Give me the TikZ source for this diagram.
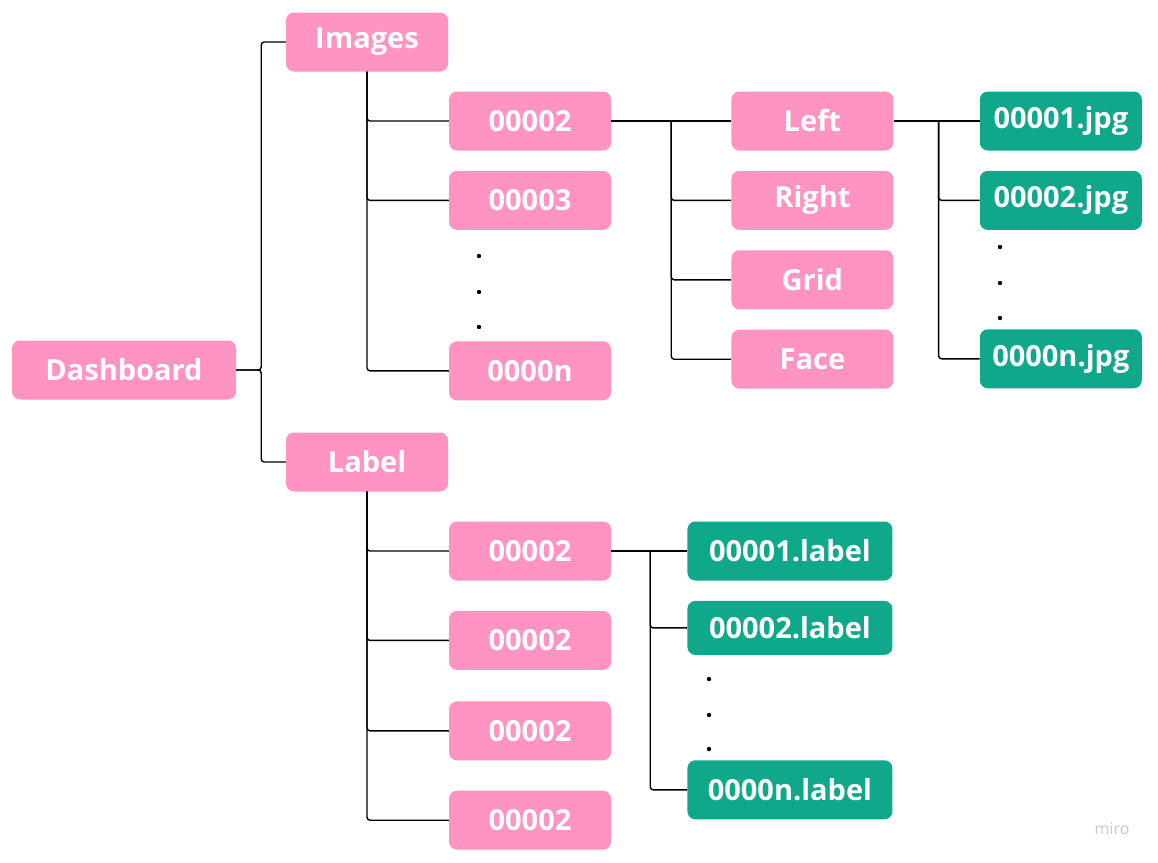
\documentclass[tikz,border=0pt]{standalone}
\usepackage{fontspec}
\setmainfont{Open Sans}
\usetikzlibrary{positioning,calc}
\definecolor{miropink}{HTML}{FF93C2}
\definecolor{mirogreen}{HTML}{0FA88A}
\definecolor{marklight}{HTML}{C9C9D2}
\tikzset{
  box/.style={rounded corners=8pt, minimum height=59pt, inner sep=0pt,
    text=white, font=\bfseries\fontsize{29}{34}\selectfont},
  pinkbox/.style={box, fill=miropink, minimum width=162pt},
  greenbox/.style={box, fill=mirogreen, minimum width=162pt},
  wire/.style={draw=black, line width=1.4pt, rounded corners=3pt}
}
\begin{document}
\begin{tikzpicture}[x=1pt, y=1pt, node distance=20pt]
\useasboundingbox (0,0) rectangle (1158,-862);
% top level
\node[pinkbox, minimum width=224pt] (dash) at (124,-370) {Dashboard};
\node[pinkbox] (img) at (367,-42)  {Images};
\node[pinkbox] (lab) at (367,-462) {Label};
% images branch
\node[pinkbox] (i1) at (530,-121) {00002};
\node[pinkbox, below=of i1]       (i2) {00003};
\node[pinkbox, below=111pt of i2] (in) {0000n};
\node[pinkbox, right=120pt of i1] (left)  {Left};
\node[pinkbox, below=of left]     (right) {Right};
\node[pinkbox, below=of right]    (grid)  {Grid};
\node[pinkbox, below=of grid]     (face)  {Face};
\node[greenbox, right=86pt of left] (j1) {00001.jpg};
\node[greenbox, below=of j1]        (j2) {00002.jpg};
\node[greenbox, below=99pt of j2]   (jn) {0000n.jpg};
% label branch
\node[pinkbox] (l1) at (530,-551) {00002};
\node[pinkbox, below=30pt of l1] (l2) {00002};
\node[pinkbox, below=31pt of l2] (l3) {00002};
\node[pinkbox, below=30pt of l3] (l4) {00002};
\node[greenbox, minimum width=205pt, right=76pt of l1] (f1) {00001.label};
\node[greenbox, minimum width=205pt, minimum height=54pt, below=of f1] (f2) {00002.label};
\node[greenbox, minimum width=205pt, below=105pt of f2] (fn) {0000n.label};
% connectors
\coordinate (dj) at ($(dash.east)+(25,0)$);
\draw[wire] (dash.east) -- (dj) |- (img.west);
\draw[wire] (dash.east) -- (dj) |- (lab.west);
\foreach \n in {i1,i2,in} \draw[wire] (img.south) |- (\n.west);
\coordinate (ij) at ($(i1.east)+(60,0)$);
\draw[wire] (i1.east) -- (left.west);
\foreach \n in {right,grid,face} \draw[wire] (ij) |- (\n.west);
\coordinate (lj) at ($(left.east)+(45,0)$);
\draw[wire] (left.east) -- (j1.west);
\foreach \n in {j2,jn} \draw[wire] (lj) |- (\n.west);
\foreach \n in {l1,l2,l3,l4} \draw[wire] (lab.south) |- (\n.west);
\coordinate (fj) at ($(l1.east)+(39,0)$);
\draw[wire] (l1.east) -- (f1.west);
\foreach \n in {f2,fn} \draw[wire] (fj) |- (\n.west);
% ellipsis dots
\foreach \y in {256,292,327} \fill (479,-\y) circle (2.2pt);
\foreach \y in {247,283,318} \fill (1000,-\y) circle (2.2pt);
\foreach \y in {679,715,749} \fill (709,-\y) circle (2.2pt);
\node[text=marklight, font=\fontsize{16}{18}\selectfont] (mark) at (1112,-829) {miro};
\end{tikzpicture}
\end{document}
